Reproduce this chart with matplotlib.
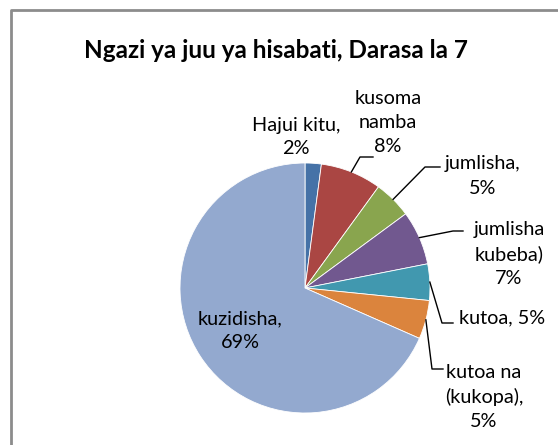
import numpy as np
import matplotlib
matplotlib.use("Agg")
import matplotlib.pyplot as plt

plt.rcParams['font.family'] = ['Lato', 'DejaVu Sans']

title = "Ngazi ya juu ya hisabati, Darasa la 7"
categories = ["Hajui kitu", "kusoma namba", "jumlisha", "jumlisha kubeba)",
              "kutoa", "kutoa na (kukopa)", "kuzidisha"]
shares = [2.1, 7.9, 4.9, 7.0, 4.7, 5.0, 68.4]
label_texts = ["Hajui kitu,\n2%", "kusoma\nnamba\n8%", "jumlisha,\n5%",
               "jumlisha\nkubeba)\n7%", "kutoa, 5%", "kutoa na\n(kukopa),\n5%",
               "kuzidisha,\n69%"]
colors = ["#4572A7", "#AA4643", "#89A54E", "#71588F", "#4198AF", "#DB843D", "#93A9CF"]

W, H = 558, 445
fig = plt.figure(figsize=(W / 100, H / 100), dpi=100)
ax = fig.add_axes([0, 0, 1, 1])

cx, cy, r = 305, H - 288, 125
wedges, _ = ax.pie(shares, colors=colors, startangle=90, counterclock=False,
                   center=(cx, cy), radius=r,
                   wedgeprops=dict(edgecolor="white", linewidth=0.6))
ax.set_xlim(0, W)
ax.set_ylim(0, H)
ax.set_aspect("equal")
ax.axis("off")

# chart frame (only top and left edges visible)
ax.plot([11, 11, W], [0, H - 10, H - 10], color="#8c8c8c", lw=2, solid_capstyle="butt")

ax.text(276, H - 50, title, ha="center", va="center", fontsize=17.5, fontweight="bold")

# label layout: text centre, leader elbow and leader end (None = no leader)
text_pos = [(296, 137), (388, 123), (483, 176), (509, 254), (502, 318), (484, 397), (240, 331)]
elbows = [None, (360, 157), (425, 167), (453, 231), (442, 323), (432, 369), None]
ends = [None, (373, 157), (440, 167), (463, 231), (453, 323), (443, 369), None]

for w, txt, (tx, ty), el, en in zip(wedges, label_texts, text_pos, elbows, ends):
    ax.text(tx, H - ty, txt, ha="center", va="center", fontsize=14.3,
            linespacing=1.5)
    if el is not None:
        mid = np.deg2rad((w.theta1 + w.theta2) / 2)
        ax_x = cx + r * np.cos(mid)
        ax_y = cy + r * np.sin(mid)
        ax.plot([ax_x, el[0], en[0]], [ax_y, H - el[1], H - en[1]],
                color="black", lw=1)

fig.savefig("out.png", dpi=100, facecolor="white")
